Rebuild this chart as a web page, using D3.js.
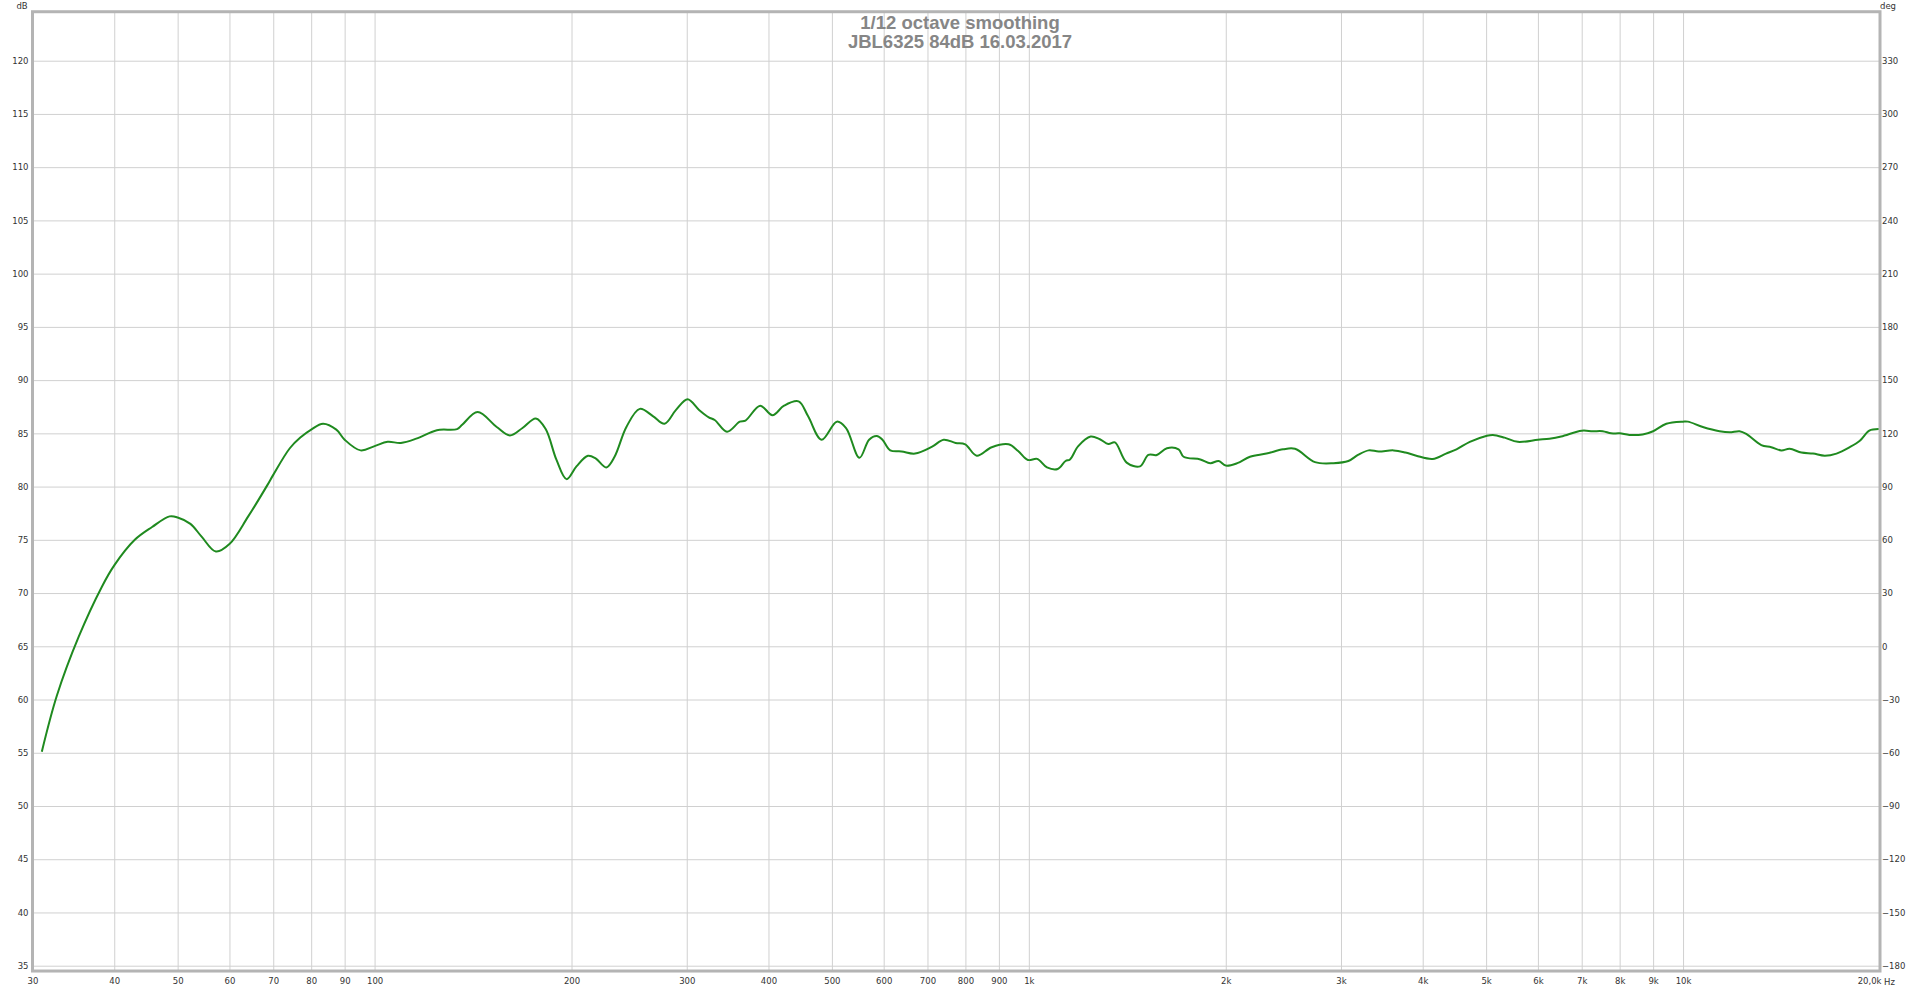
<!DOCTYPE html>
<html>
<head>
<meta charset="utf-8">
<script src="https://cdn.jsdelivr.net/npm/d3@7"></script>
<style>
  html, body { margin: 0; padding: 0; background: #fff; }
  svg { display: block; }
  .tick text { font-family: "DejaVu Sans", Verdana, sans-serif; font-size: 8.5px; fill: #333; }
</style>
</head>
<body>
<script>
// ---- data ----
const freqs = [31.0, 32.7, 35.3, 38.3, 40, 43.0, 45.7, 48.6, 50, 52.3, 54.4, 57.2, 60, 64.1, 68.6, 70, 74.2, 77, 80, 83.4, 87.4, 90, 95.2, 100,
  104.7, 109.7, 115.8, 124.5, 133.7, 136.1, 143.7, 153.7, 161, 168.3, 176.4, 182.6, 189.7, 196.5, 203.5, 211.9, 217.7, 226, 232.7,
  242.6, 254.3, 266.6, 277.4, 288.9, 300.9, 313.3, 324.2, 331, 345.7, 361.6, 368.9, 388.5, 405.7, 422.5, 444.7, 459.9, 482.2,
  508.8, 525.6, 551, 570, 585.6, 597.4, 614, 639, 670, 711.6, 741, 772.8, 799.4, 832.5, 877.6, 931, 963, 997, 1030, 1066, 1107,
  1138, 1156, 1190, 1243, 1284, 1323, 1354, 1411, 1479, 1523, 1569, 1626, 1694, 1724, 1829, 1894, 1951, 2000, 2083, 2178, 2308,
  2447, 2552, 2738, 2922, 3079, 3191, 3307, 3426, 3611, 3763, 3911, 4142, 4342, 4505, 4721, 5000, 5121, 5336, 5590, 6000, 6248,
  6512, 7000, 7275, 7537, 7762, 8000, 8279, 8675, 9000, 9428, 10000, 10170, 10720, 11370, 11780, 12200, 12490, 13170, 13640,
  14130, 14550, 15170, 15800, 16470, 17160, 17980, 18630, 19260, 19900];
const spl = [55.1, 60.4, 65.9, 70.6, 72.6, 75.0, 76.2, 77.2, 77.1, 76.5, 75.3, 73.9, 74.6, 77.2, 80.16, 81.1, 83.6, 84.6, 85.35, 85.9, 85.35, 84.4, 83.4, 83.8,
  84.2, 84.1, 84.5, 85.3, 85.4, 85.8, 87.0, 85.6, 84.8, 85.5, 86.4, 85.4, 82.5, 80.7, 81.9, 82.9, 82.65, 81.8, 82.8,
  85.6, 87.3, 86.6, 85.9, 87.2, 88.2, 87.2, 86.5, 86.25, 85.15, 86.1, 86.2, 87.6, 86.7, 87.6, 88.0, 86.6, 84.4,
  86.1, 85.5, 82.7, 84.4, 84.75, 84.4, 83.4, 83.3, 83.1, 83.75, 84.4, 84.1, 83.97, 82.9, 83.7, 83.97, 83.35, 82.5, 82.6, 81.8, 81.65,
  82.4, 82.55, 83.8, 84.7, 84.45, 84.0, 84.15, 82.25, 81.9, 82.97, 82.97, 83.6, 83.5, 82.8, 82.55, 82.2, 82.4, 81.97, 82.2, 82.8, 83.1,
  83.5, 83.55, 82.3, 82.2, 82.4, 83.0, 83.4, 83.3, 83.4, 83.2, 82.9, 82.6, 83.1, 83.5, 84.2, 84.75, 84.85, 84.6, 84.2, 84.4, 84.5,
  84.7, 85.25, 85.2, 85.2, 85.0, 85.0, 84.85, 84.9, 85.2, 85.9, 86.1, 86.1, 85.6, 85.2, 85.1, 85.2, 84.95, 83.9, 83.7,
  83.4, 83.55, 83.2, 83.1, 82.9, 83.1, 83.7, 84.3, 85.25, 85.4];

const xTicks = [30, 40, 50, 60, 70, 80, 90, 100, 200, 300, 400, 500, 600, 700, 800, 900, 1000, 2000, 3000, 4000, 5000, 6000, 7000, 8000, 9000, 10000, 20000];
const xTickLabels = ["30", "40", "50", "60", "70", "80", "90", "100", "200", "300", "400", "500", "600", "700", "800", "900", "1k", "2k", "3k", "4k", "5k", "6k", "7k", "8k", "9k", "10k", "20,0k"];
const dbTicks = [35, 40, 45, 50, 55, 60, 65, 70, 75, 80, 85, 90, 95, 100, 105, 110, 115, 120];
const degTicks = [-180, -150, -120, -90, -60, -30, 0, 30, 60, 90, 120, 150, 180, 210, 240, 270, 300, 330];
const titleLines = ["1/12 octave smoothing", "JBL6325 84dB 16.03.2017"];

// ---- layout ----
const W = 1920, H = 989;
const plotL = 32.5, plotR = 1880;
const x = d3.scaleLog().domain([30, 20000]).range([plotL, plotR]);
const y = d3.scaleLinear().domain([35, 120]).range([965.7, 60.7]);
const yDeg = d3.scaleLinear().domain([-180, 330]).range([965.7, 60.7]);
const plotT = y(124.6), plotB = y(34.5);

const svg = d3.select("body").append("svg").attr("width", W).attr("height", H);

// grid via axes
const gx = svg.append("g").attr("transform", `translate(0,${plotB})`)
  .call(d3.axisBottom(x).tickValues(xTicks).tickSize(-(plotB - plotT)).tickPadding(6)
    .tickFormat((d, i) => xTickLabels[i]));
gx.select(".domain").remove();
gx.selectAll(".tick line").attr("stroke", "#d0d0d0").attr("stroke-width", 1)
  .filter(d => d === 30 || d === 20000).remove();
gx.selectAll(".tick text").attr("dy", "0.71em").attr("y", 6.5);
gx.selectAll(".tick").filter(d => d === 20000).select("text").attr("text-anchor", "end").attr("x", 1);

const gy = svg.append("g").attr("transform", `translate(${plotL},0)`)
  .call(d3.axisLeft(y).tickValues(dbTicks).tickSize(-(plotR - plotL)).tickPadding(4).tickFormat(d3.format("d")));
gy.select(".domain").remove();
gy.selectAll(".tick line").attr("stroke", "#d0d0d0").attr("stroke-width", 1);

const gr = svg.append("g").attr("transform", `translate(${plotR},0)`)
  .call(d3.axisRight(yDeg).tickValues(degTicks).tickSize(0).tickPadding(2).tickFormat(d3.format("d")));
gr.select(".domain").remove();

// units
svg.append("text").attr("x", 1884).attr("y", plotB + 13.5).text("Hz")
  .attr("font-family", "DejaVu Sans, Verdana, sans-serif").attr("font-size", 8.5).attr("fill", "#333");
svg.append("text").attr("x", 22).attr("y", 8.5).attr("text-anchor", "middle").text("dB")
  .attr("font-family", "DejaVu Sans, Verdana, sans-serif").attr("font-size", 8.5).attr("fill", "#333");
svg.append("text").attr("x", 1888).attr("y", 8.5).attr("text-anchor", "middle").text("deg")
  .attr("font-family", "DejaVu Sans, Verdana, sans-serif").attr("font-size", 8.5).attr("fill", "#333");

// frame
svg.append("rect").attr("x", plotL).attr("y", plotT).attr("width", plotR - plotL).attr("height", plotB - plotT)
  .attr("fill", "none").attr("stroke", "#b4b4b4").attr("stroke-width", 3);

// title
svg.append("g").selectAll("text").data(titleLines).join("text")
  .attr("x", W / 2).attr("y", (d, i) => 29 + i * 19)
  .attr("text-anchor", "middle")
  .attr("font-family", "Liberation Sans, Arial, sans-serif").attr("font-weight", "bold")
  .attr("font-size", 18.5).attr("fill", "#868686")
  .text(d => d);

// curve
const pts = freqs.map((f, i) => [f, spl[i]]);
const line = d3.line().x(d => x(d[0])).y(d => y(d[1])).curve(d3.curveCatmullRom.alpha(0.5));
svg.append("path").datum(pts).attr("d", line)
  .attr("fill", "none").attr("stroke", "#1f8a1f").attr("stroke-width", 2).attr("stroke-linejoin", "round");
</script>
</body>
</html>
